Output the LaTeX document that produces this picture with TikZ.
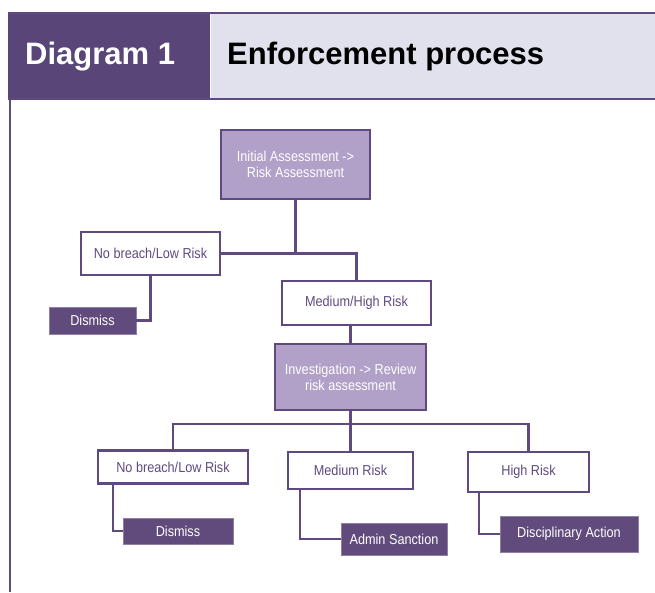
\documentclass[tikz,border=0pt]{standalone}
\usepackage{fontspec}
\setmainfont{Liberation Sans}
\newfontfamily\narrowfont[FakeStretch=0.88]{Liberation Sans}
\definecolor{hdark}{RGB}{90,69,121}
\definecolor{hlight}{RGB}{225,225,238}
\definecolor{pline}{RGB}{95,74,128}
\definecolor{plight}{RGB}{177,160,199}
\definecolor{pbox}{RGB}{97,74,124}
\definecolor{ptext}{RGB}{95,75,128}
\tikzset{
  base/.style={inner sep=0pt, align=center, font=\narrowfont\fontsize{14.4}{16}\selectfont},
  topbox/.style={base, draw=pline, line width=2.2pt, fill=plight, text=white},
  whitebox/.style={base, draw=pline, line width=2.2pt, fill=white, text=ptext},
  endbox/.style={base, fill=pbox, draw=pbox!70!white, line width=0.6pt, text=white},
  conn/.style={draw=pline, line width=2.2pt},
  hdtext/.style={anchor=base west, inner sep=0pt, font=\bfseries\fontsize{31}{34}\selectfont}
}
\begin{document}
\begin{tikzpicture}[x=1pt,y=-1pt]
\useasboundingbox (0,0) rectangle (655,592);
% header
\fill[hdark] (8,12) rectangle (210,100);
\fill[hlight] (211,14) rectangle (655,98);
\draw[pline, line width=2pt] (8,13) -- (655,13);
\draw[pline, line width=2pt] (8,99) -- (655,99);
\draw[pline, line width=2pt] (9.5,99) -- (9.5,592);
\node[hdtext, text=white] (h1) at (25,64) {Diagram 1};
\node[hdtext, text=black] (h2) at (227,64) {Enforcement process};
% nodes
\node[topbox, minimum width=149pt, minimum height=69pt] (init) at (295.5,164.5) {Initial Assessment ->\\Risk Assessment};
\node[whitebox, minimum width=139pt, minimum height=43pt] (nb1) at (150.5,253.5) {No breach/Low Risk};
\node[whitebox, minimum width=149pt, minimum height=44pt] (mh) at (356.5,303) {Medium/High Risk};
\node[endbox, minimum width=87pt, minimum height=27pt] (dis1) at (92.5,320.5) {Dismiss};
\node[topbox, minimum width=151pt, minimum height=66pt] (inv) at (350.5,377) {Investigation -> Review\\risk assessment};
\node[whitebox, minimum width=150pt, minimum height=33pt] (nb2) at (173,467) {No breach/Low Risk};
\node[whitebox, minimum width=125pt, minimum height=37pt] (mr) at (350.5,470.5) {Medium Risk};
\node[whitebox, minimum width=121pt, minimum height=40pt] (hr) at (528.5,472) {High Risk};
\node[endbox, minimum width=110pt, minimum height=26pt] (dis2) at (178,531) {Dismiss};
\node[endbox, minimum width=106pt, minimum height=32pt] (adm) at (394,539) {Admin Sanction};
\node[endbox, minimum width=138pt, minimum height=36pt] (dsc) at (569,534) {Disciplinary Action};
\coordinate (bus) at (350.5,424);
% connectors
\draw[conn] (init.south) |- (nb1.east);
\draw[conn] (init.south |- nb1.east) -| (mh.north);
\draw[conn] (nb1.south) |- (dis1.east);
\draw[conn] (inv.north) -- (inv.north |- mh.south);
\draw[conn] (inv.south) -- (mr.north);
\draw[conn] (nb2.north) |- (bus) -| (hr.north);
\draw[conn] ([xshift=16pt]nb2.south west) |- (dis2.west);
\draw[conn] ([xshift=13pt]mr.south west) |- (adm.west);
\draw[conn] ([xshift=12pt]hr.south west) |- (dsc.west);
\end{tikzpicture}
\end{document}
